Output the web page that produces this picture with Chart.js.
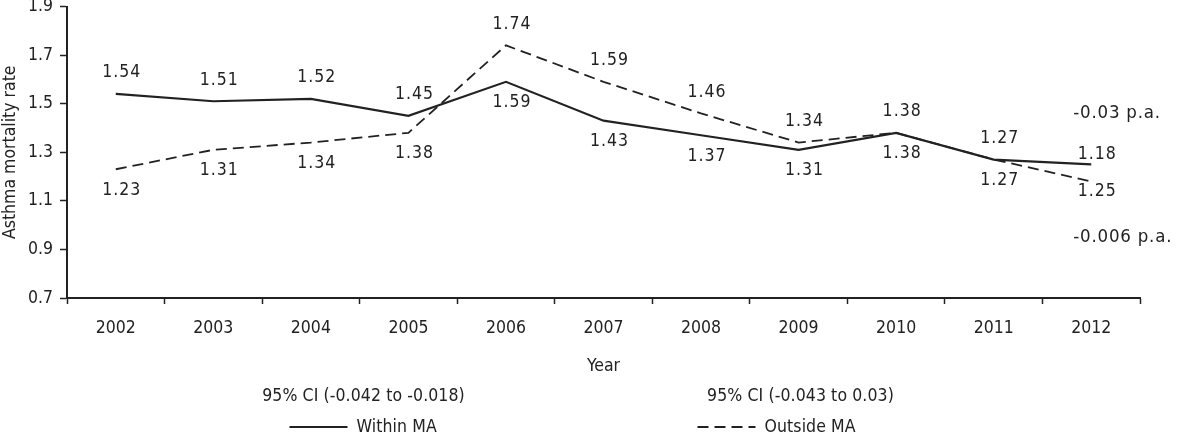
<!DOCTYPE html>
<html>
<head>
<meta charset="utf-8">
<script src="https://cdn.jsdelivr.net/npm/chart.js@4"></script>
<style>
  html, body { margin: 0; padding: 0; background: #fff; }
  #wrap { width: 1179px; height: 441px; overflow: hidden; position: relative; }
  #myChart { position: absolute; left: 0; top: -11px; }
</style>
</head>
<body>
<div id="wrap"><canvas id="myChart" width="1179" height="452"></canvas></div>
<script>
// data
const years = ['2002', '2003', '2004', '2005', '2006', '2007', '2008', '2009', '2010', '2011', '2012'];
const withinMA = [1.54, 1.51, 1.52, 1.45, 1.59, 1.43, 1.37, 1.31, 1.38, 1.27, 1.25];
const outsideMA = [1.23, 1.31, 1.34, 1.38, 1.74, 1.59, 1.46, 1.34, 1.38, 1.27, 1.18];
const yTicks = [0.7, 0.9, 1.1, 1.3, 1.5, 1.7, 1.9];
const seriesNames = ['Within MA', 'Outside MA'];
const ciLabels = ['95% CI (-0.042 to -0.018)', '95% CI (-0.043 to 0.03)'];
const trendLabels = ['-0.03 p.a.', '-0.006 p.a.'];

// which side of the point each value label sits on
const withinSide = ['up', 'up', 'up', 'up', 'down', 'down', 'down', 'down', 'down', 'down', 'down'];
const outsideSide = ['down', 'down', 'down', 'down', 'up', 'up', 'up', 'up', 'up', 'up', 'up'];

const FONT_FAMILY = '"DejaVu Sans Condensed", "DejaVu Sans", sans-serif';
const FONT_SIZE = 17.5;
const INK = '#222';

Chart.defaults.font.family = FONT_FAMILY;
Chart.defaults.font.size = FONT_SIZE;
Chart.defaults.color = INK;

const extras = {
    id: 'extras',
    afterDatasetsDraw(chart) {
        const {ctx, scales: {x, y}} = chart;
        ctx.save();
        ctx.font = FONT_SIZE + 'px ' + FONT_FAMILY;
        ctx.fillStyle = INK;
        ctx.textBaseline = 'middle';

        // value labels
        ctx.textAlign = 'center';
        ctx.letterSpacing = '1px';
        const sides = [withinSide, outsideSide];
        chart.data.datasets.forEach((ds, di) => {
            const meta = chart.getDatasetMeta(di);
            meta.data.forEach((pt, i) => {
                const last = i === ds.data.length - 1;
                const gap = last ? 27 : 21;
                const dy = sides[di][i] === 'up' ? -gap : gap;
                ctx.fillText(ds.data[i].toFixed(2), pt.x + 6, pt.y + dy);
            });
        });

        // trend annotations
        ctx.font = '18.5px ' + FONT_FAMILY;
        ctx.textAlign = 'left';
        ctx.letterSpacing = '0.8px';
        const tx = x.getPixelForValue(years.length - 1) - 18;
        ctx.fillText(trendLabels[0], tx, y.getPixelForValue(1.46));
        ctx.fillText(trendLabels[1], tx, y.getPixelForValue(0.95));
        ctx.restore();
    },
    afterDraw(chart) {
        const {ctx} = chart;
        const cx = chart.width / 2;
        const ciY = chart.chartArea.bottom + 98;
        const legY = chart.chartArea.bottom + 129;
        ctx.save();
        ctx.font = FONT_SIZE + 'px ' + FONT_FAMILY;
        ctx.fillStyle = INK;
        ctx.strokeStyle = INK;
        ctx.textBaseline = 'middle';
        ctx.textAlign = 'center';
        ctx.letterSpacing = '0.1px';
        ctx.fillText(ciLabels[0], cx - 226, ciY);
        ctx.fillText(ciLabels[1], cx + 211, ciY);

        const items = [
            {left: cx - 300, dash: [], name: seriesNames[0]},
            {left: cx + 108, dash: [11, 6], name: seriesNames[1]}
        ];
        ctx.textAlign = 'left';
        ctx.lineWidth = 1.8;
        items.forEach(it => {
            ctx.setLineDash(it.dash);
            ctx.beginPath();
            ctx.moveTo(it.left, legY);
            ctx.lineTo(it.left + 58, legY);
            ctx.stroke();
            ctx.fillText(it.name, it.left + 67, legY);
        });
        ctx.restore();
    }
};

document.addEventListener('DOMContentLoaded', () => {
    const ctx = document.getElementById('myChart');

    new Chart(ctx, {
        type: 'line',
        data: {
            labels: years,
            datasets: [{
                label: seriesNames[0],
                data: withinMA,
                borderColor: INK,
                borderWidth: 2.2,
                pointRadius: 0,
                tension: 0,
                fill: false
            }, {
                label: seriesNames[1],
                data: outsideMA,
                borderColor: INK,
                borderWidth: 1.8,
                borderDash: [11, 6],
                pointRadius: 0,
                tension: 0,
                fill: false
            }]
        },
        options: {
            responsive: false,
            animation: false,
            devicePixelRatio: 1,
            layout: { padding: { top: 0, right: 39, bottom: 64, left: 0 } },
            plugins: {
                legend: { display: false },
                tooltip: { enabled: false }
            },
            scales: {
                x: {
                    offset: true,
                    grid: {
                        offset: true,
                        drawOnChartArea: false,
                        tickLength: 6,
                        tickColor: INK,
                        tickWidth: 1.5
                    },
                    border: { color: INK, width: 2 },
                    ticks: { padding: 14, color: INK, maxRotation: 0 },
                    title: { display: true, text: 'Year', padding: { top: 0, bottom: 0 } },
                    afterFit: (scale) => { scale.height = 79; }
                },
                y: {
                    min: 0.7,
                    max: 1.9,
                    grid: {
                        drawOnChartArea: false,
                        tickLength: 7,
                        tickColor: INK,
                        tickWidth: 1.5
                    },
                    border: { color: INK, width: 2 },
                    ticks: {
                        padding: 7,
                        color: INK,
                        callback: (v) => Number(v).toFixed(1)
                    },
                    afterBuildTicks: (scale) => {
                        scale.ticks = yTicks.map(v => ({value: v}));
                    },
                    title: { display: true, text: 'Asthma mortality rate', padding: { top: 0, bottom: 3 } },
                    afterFit: (scale) => { scale.width = 67; }
                }
            }
        },
        plugins: [extras]
    });
});
</script>
</body>
</html>
